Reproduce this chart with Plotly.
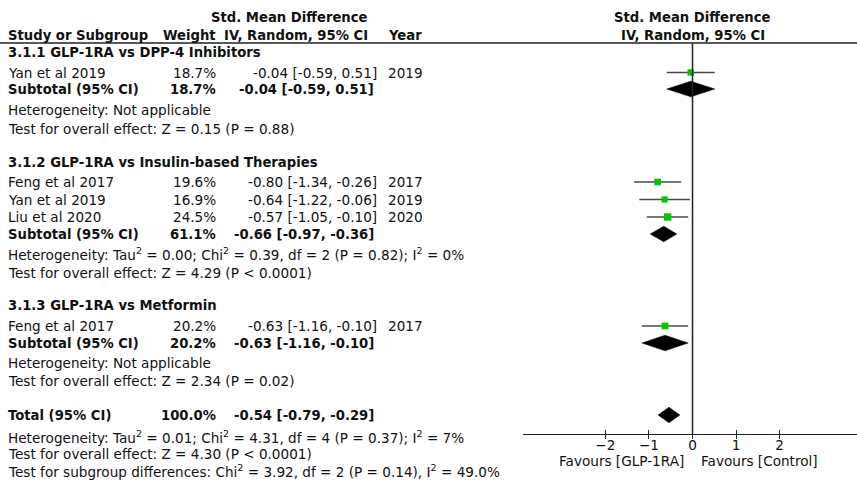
import plotly.graph_objects as go

# ---------------- data ----------------
group_titles = ["3.1.1 GLP-1RA vs DPP-4 Inhibitors",
                "3.1.2 GLP-1RA vs Insulin-based Therapies",
                "3.1.3 GLP-1RA vs Metformin"]
study_names = ["Yan et al 2019", "Feng et al 2017", "Yan et al 2019", "Liu et al 2020", "Feng et al 2017"]
study_group = [0, 1, 1, 1, 2]
study_weight = [18.7, 19.6, 16.9, 24.5, 20.2]
study_est = [-0.04, -0.80, -0.64, -0.57, -0.63]
study_lo = [-0.59, -1.34, -1.22, -1.05, -1.16]
study_hi = [0.51, -0.26, -0.06, -0.10, -0.10]
study_year = [2019, 2017, 2019, 2020, 2017]
sub_weight = [18.7, 61.1, 20.2]
sub_est = [-0.04, -0.66, -0.63]
sub_lo = [-0.59, -0.97, -1.16]
sub_hi = [0.51, -0.36, -0.10]
het_text = ["Heterogeneity: Not applicable",
            "Heterogeneity: Tau<sup>2</sup> = 0.00; Chi<sup>2</sup> = 0.39, df = 2 (P = 0.82); I<sup>2</sup> = 0%",
            "Heterogeneity: Not applicable"]
effect_text = ["Test for overall effect: Z = 0.15 (P = 0.88)",
               "Test for overall effect: Z = 4.29 (P < 0.0001)",
               "Test for overall effect: Z = 2.34 (P = 0.02)"]
total_weight = 100.0
total_est = -0.54
total_lo = -0.79
total_hi = -0.29
total_notes = ["Heterogeneity: Tau<sup>2</sup> = 0.01; Chi<sup>2</sup> = 4.31, df = 4 (P = 0.37); I<sup>2</sup> = 7%",
               "Test for overall effect: Z = 4.30 (P < 0.0001)",
               "Test for subgroup differences: Chi<sup>2</sup> = 3.92, df = 2 (P = 0.14), I<sup>2</sup> = 49.0%"]
tick_vals = [-2, -1, 0, 1, 2]
favours_left = "Favours [GLP-1RA]"
favours_right = "Favours [Control]"

# ---------------- layout constants (pixels) ----------------
W, H = 857, 480
GROUP_Y = [52, 162, 305.5]
STUDY_Y = [72.5, 182, 199.5, 217, 326]
SUB_Y = [89, 234, 343]
HET_Y = [110, 254, 362.5]
EFF_Y = [128.5, 273, 381]
TOTAL_Y = 415
TOTAL_NOTE_Y = [436.5, 453.5, 470.5]
HEAD1_Y, HEAD2_Y, HLINE_Y, AXIS_Y, FAV_Y = 17, 35, 43, 434, 461
X_NAME, X_WEIGHT_R, X_CI_R, X_HEAD_R, X_YEAR = 6, 218, 379, 370, 386
PLOT_LEFT = 523
XRANGE = [-3.888, 3.773]
DIAMOND_HALF = 7.8
FONT = "DejaVu Sans"
FS = 13.6
FSB = 13.2
TXT = "#111111"
GREEN = "#00c800"

def px(x):
    return x / W

fig = go.Figure()
ann = []

def text(x, y, s, anchor="left", bold=False, xref="paper"):
    ann.append(dict(x=px(x) if xref == "paper" else x, y=y, xref=xref, yref="y",
                    text=f"<b>{s}</b>" if bold else s, showarrow=False,
                    xanchor=anchor, yanchor="middle",
                    font=dict(family=FONT, size=FSB if bold else FS, color=TXT)))

def ci_str(e, l, h):
    return f"{e:.2f} [{l:.2f}, {h:.2f}]"

def diamond(lo, est, hi, y):
    fig.add_trace(go.Scatter(x=[lo, est, hi, est, lo],
                             y=[y, y - DIAMOND_HALF, y, y + DIAMOND_HALF, y],
                             mode="lines", fill="toself", fillcolor="black",
                             line=dict(color="black", width=0.5),
                             hoverinfo="skip", showlegend=False))

# headers
text(X_HEAD_R, HEAD1_Y, "Std. Mean Difference", "right", True)
text(X_NAME, HEAD2_Y, "Study or Subgroup", "left", True)
text(X_WEIGHT_R, HEAD2_Y, "Weight", "right", True)
text(X_HEAD_R, HEAD2_Y, "IV, Random, 95% CI", "right", True)
text(X_YEAR, HEAD2_Y, "Year", "left", True)
text(0, HEAD1_Y, "Std. Mean Difference", "center", True, xref="x")
text(0, HEAD2_Y, "IV, Random, 95% CI", "center", True, xref="x")

for g in range(len(group_titles)):
    text(X_NAME, GROUP_Y[g], group_titles[g], "left", True)
    for i in range(len(study_names)):
        if study_group[i] != g:
            continue
        y = STUDY_Y[i]
        text(X_NAME, y, study_names[i])
        text(X_WEIGHT_R, y, f"{study_weight[i]:.1f}%", "right")
        text(X_CI_R, y, ci_str(study_est[i], study_lo[i], study_hi[i]), "right")
        text(X_YEAR, y, str(study_year[i]))
        fig.add_trace(go.Scatter(x=[study_lo[i], study_hi[i]], y=[y, y], mode="lines",
                                 line=dict(color="#4a4a4a", width=1.5),
                                 hoverinfo="skip", showlegend=False))
        fig.add_trace(go.Scatter(x=[study_est[i]], y=[y], mode="markers",
                                 marker=dict(symbol="square", color=GREEN,
                                             size=1.5 * study_weight[i] ** 0.5,
                                             line=dict(width=0)),
                                 hoverinfo="skip", showlegend=False))
    y = SUB_Y[g]
    text(X_NAME, y, "Subtotal (95% CI)", "left", True)
    text(X_WEIGHT_R, y, f"{sub_weight[g]:.1f}%", "right", True)
    text(X_CI_R - 3, y, ci_str(sub_est[g], sub_lo[g], sub_hi[g]), "right", True)
    diamond(sub_lo[g], sub_est[g], sub_hi[g], y)
    text(X_NAME, HET_Y[g], het_text[g])
    text(X_NAME, EFF_Y[g], effect_text[g])

# total
text(X_NAME, TOTAL_Y, "Total (95% CI)", "left", True)
text(X_WEIGHT_R, TOTAL_Y, f"{total_weight:.1f}%", "right", True)
text(X_CI_R - 3, TOTAL_Y, ci_str(total_est, total_lo, total_hi), "right", True)
diamond(total_lo, total_est, total_hi, TOTAL_Y)
for s, y in zip(total_notes, TOTAL_NOTE_Y):
    text(X_NAME, y, s)

# favours labels
ann.append(dict(x=-0.15, y=FAV_Y, xref="x", yref="y", text=favours_left, showarrow=False,
                xanchor="right", yanchor="middle", font=dict(family=FONT, size=FS, color=TXT)))
ann.append(dict(x=0.15, y=FAV_Y, xref="x", yref="y", text=favours_right, showarrow=False,
                xanchor="left", yanchor="middle", font=dict(family=FONT, size=FS, color=TXT)))

shapes = [
    dict(type="line", xref="paper", yref="y", x0=0, x1=1, y0=HLINE_Y, y1=HLINE_Y,
         line=dict(color="#222222", width=1.5)),
    dict(type="line", xref="x", yref="y", x0=0, x1=0, y0=HLINE_Y, y1=AXIS_Y,
         line=dict(color="#222222", width=1.5)),
]

axis_pos = 1 - AXIS_Y / H
fig.update_layout(
    width=W, height=H, margin=dict(l=0, r=0, t=0, b=0, autoexpand=False),
    paper_bgcolor="white", plot_bgcolor="white",
    showlegend=False, annotations=ann, shapes=shapes,
    xaxis=dict(domain=[px(PLOT_LEFT), 1], range=XRANGE, anchor="free", position=axis_pos,
               showgrid=False, zeroline=False, showline=True, linecolor="#222222", linewidth=1.2,
               ticks="outside", ticklen=4, tickwidth=1.2, tickcolor="#222222",
               ticklabelstandoff=-5, automargin=False,
               tickvals=tick_vals, tickfont=dict(family=FONT, size=FS, color=TXT)),
    xaxis2=dict(domain=[px(PLOT_LEFT), 1], range=XRANGE, anchor="free", position=axis_pos,
                overlaying="x", showgrid=False, zeroline=False, showline=False,
                ticks="inside", ticklen=4, tickwidth=1.2, tickcolor="#222222",
                tickvals=tick_vals, showticklabels=False),
    yaxis=dict(domain=[0, 1], range=[H, 0], visible=False, showgrid=False, zeroline=False),
)
fig.add_trace(go.Scatter(x=[0], y=[-100], xaxis="x2", mode="markers",
                         marker=dict(opacity=0), hoverinfo="skip", showlegend=False))

fig.write_html("out.html", config={"displayModeBar": False},
               post_script="document.body.style.margin='0px';")
